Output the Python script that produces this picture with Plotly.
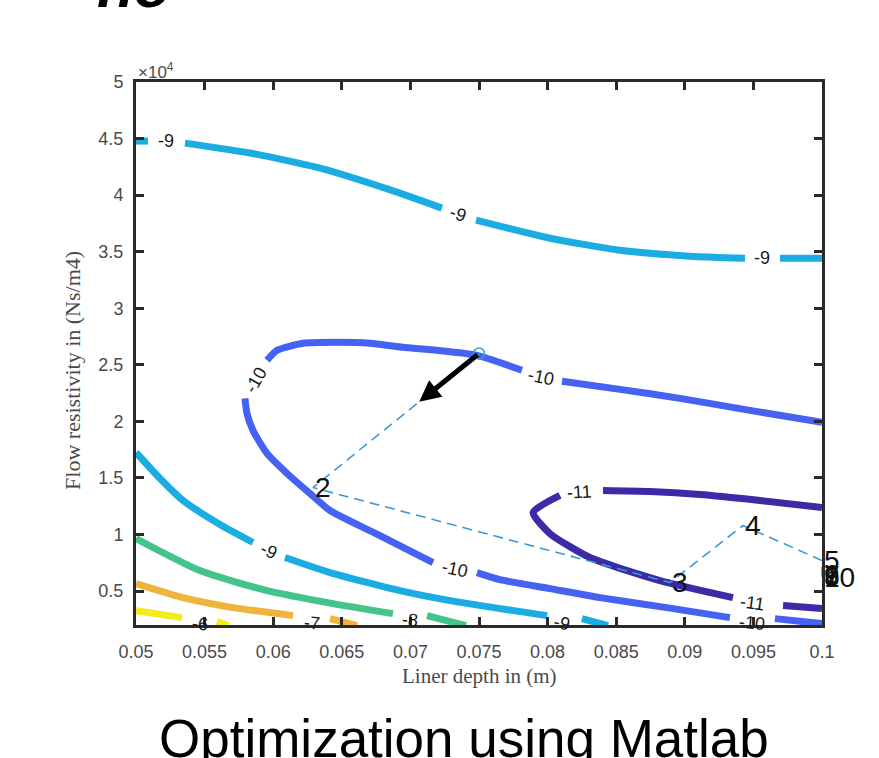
import plotly.graph_objects as go

# ---------------- data ----------------
# contour level -9 (upper branch)
c9a_x = [0.05, 0.05087, None, 0.05357, 0.05831, 0.06341, 0.06924, 0.0723, None,
         0.07478, 0.08017, 0.08528, 0.09038, 0.09439, None, 0.09694, 0.1]
c9a_y = [44780, 44780, None, 44600, 43720, 42390, 40180, 38850, None,
         37790, 36190, 35130, 34600, 34420, None, 34420, 34420]
# contour level -10
c10_x = [0.1, 0.09475, 0.08965, 0.08528, 0.08105, None,
         0.07813, 0.07485, 0.07194, 0.06946, 0.06706, 0.06465, 0.06217, 0.06028, 0.05955, None,
         0.05794, 0.05809, 0.05853, 0.05955, 0.06101, 0.06268, 0.06414, 0.06778, 0.07165, None,
         0.07485, 0.07653, 0.08017, 0.08382, 0.0887, 0.09329, None, 0.09657, 0.1]
c10_y = [19910, 20972, 22034, 22830, 23540, None,
         24512, 25840, 26282, 26548, 26902, 26990, 26902, 26282, 25397, None,
         22034, 20707, 19202, 17167, 15397, 13627, 12122, 9910, 7520, None,
         6635, 6015, 5219, 4423, 3538, 2653, None, 2564, 2122]
# contour level -11
c11_x = [0.1, 0.09548, 0.09111, 0.08746, 0.08404, None,
         0.0809, 0.07894, 0.08017, 0.08309, 0.08819, 0.09351, None, 0.09716, 0.1]
c11_y = [12388, 13007, 13538, 13804, 13892, None,
         13450, 11945, 10087, 7963, 5927, 4423, None, 3714, 3449]
# contour level -9 (lower branch)
c9b_x = [0.05, 0.05175, 0.05343, 0.05612, 0.05853, None,
         0.06086, 0.06414, 0.06924, 0.07289, 0.07653, 0.07996, None, 0.0825, 0.0844]
c9b_y = [17255, 14954, 13007, 10883, 9290, None,
         7963, 6635, 5042, 4157, 3449, 2830, None, 2564, 1950]
# contour level -8
c8_x = [0.05, 0.05466, 0.05955, 0.06436, 0.06873, None, 0.07121, 0.07405]
c8_y = [9644, 6812, 5042, 3892, 3007, None, 2830, 1950]
# contour level -7
c7_x = [0.05, 0.05343, 0.05707, 0.06144, None, 0.06414, 0.06611]
c7_y = [5662, 4423, 3538, 2830, None, 2564, 1950]
# contour level -6
c6_x = [0.05, 0.05335, None, 0.0559, 0.05671]
c6_y = [3272, 2653, None, 2300, 1950]

# contour labels: text, x, y, angle
lab_text = ["-9", "-9", "-9", "-10", "-10", "-10", "-10", "-11", "-11",
            "-9", "-9", "-8", "-7", "-6"]
lab_x = [0.05219, 0.07347, 0.09563, 0.07952, 0.05875, 0.07325, 0.0949, 0.08236, 0.0949,
         0.05969, 0.08105, 0.07, 0.06283, 0.05466]
lab_y = [44780, 38320, 34420, 23893, 23627, 6989, 2210, 13715, 3980,
         8582, 2210, 2475, 2210, 2122]
lab_angle = [0, 19, 0, 12, -60, 12, 5, -3, 8, 25, 12, 5, 5, 5]

# optimisation path (iterations 1..10)
iter_x = [0.075, 0.0629, 0.08892, 0.09424, 0.1, 0.1, 0.1, 0.1, 0.1, 0.1]
iter_y = [26000, 14150, 5750, 10794, 7697, 6500, 6400, 6300, 6250, 6200]
iter_lbl = ["", "2", "3", "4", "5", "6", "7", "8", "9", "10"]

x_ticks = [0.05, 0.055, 0.06, 0.065, 0.07, 0.075, 0.08, 0.085, 0.09, 0.095, 0.1]
x_ticktext = ["0.05", "0.055", "0.06", "0.065", "0.07", "0.075", "0.08", "0.085", "0.09", "0.095", "0.1"]
y_ticks = [5000, 10000, 15000, 20000, 25000, 30000, 35000, 40000, 45000, 50000]
y_ticktext = ["0.5", "1", "1.5", "2", "2.5", "3", "3.5", "4", "4.5", "5"]

# ---------------- figure ----------------
fig = go.Figure()
contours = [
    (c6_x, c6_y, "#F2EC1C"),
    (c7_x, c7_y, "#EFB43C"),
    (c8_x, c8_y, "#45C48A"),
    (c9b_x, c9b_y, "#1BADE2"),
    (c9a_x, c9a_y, "#1BADE2"),
    (c10_x, c10_y, "#4662F2"),
    (c11_x, c11_y, "#3C2AA7"),
]
for cx, cy, col in contours:
    fig.add_trace(go.Scatter(x=cx, y=cy, mode="lines", line=dict(color=col, width=7, shape="spline", smoothing=0.6),
                             connectgaps=False, hoverinfo="skip", showlegend=False))

# dashed path
fig.add_trace(go.Scatter(x=iter_x, y=iter_y, mode="lines",
                         line=dict(color="#3A9AD6", width=1.6, dash="10px,6px"),
                         showlegend=False, hoverinfo="skip", cliponaxis=False))
# start marker
fig.add_trace(go.Scatter(x=iter_x[:1], y=iter_y[:1], mode="markers",
                         marker=dict(symbol="circle-open", size=11, color="#3A9AD6", line=dict(width=1.5)),
                         showlegend=False, hoverinfo="skip"))

sans = "Liberation Sans, Arial, sans-serif"
serif = "Liberation Serif, Times New Roman, serif"
annotations = []
for t, x, y, a in zip(lab_text, lab_x, lab_y, lab_angle):
    annotations.append(dict(x=x, y=y, xref="x", yref="y", text=t, showarrow=False,
                            textangle=a, font=dict(family=sans, size=18, color="#1a1a1a")))
for x, y, t in zip(iter_x, iter_y, iter_lbl):
    if t:
        annotations.append(dict(x=x, y=y, xref="x", yref="y", text=t, showarrow=False,
                                xanchor="left", yanchor="middle",
                                font=dict(family=sans, size=28, color="#111111")))
# arrow (gradient step direction, from iterate 1 towards iterate 2)
frac = 0.36
annotations.append(dict(
    x=iter_x[0] + frac * (iter_x[1] - iter_x[0]), y=iter_y[0] + frac * (iter_y[1] - iter_y[0]),
    ax=iter_x[0], ay=iter_y[0], xref="x", yref="y", axref="x", ayref="y",
    showarrow=True, arrowhead=2, arrowsize=0.85, arrowwidth=5, arrowcolor="black", text=""))
# exponent label
annotations.append(dict(x=0, y=1, xref="paper", yref="paper", xanchor="left", yanchor="bottom",
                        text="\u00d710<sup>4</sup>", showarrow=False, yshift=-2,
                        font=dict(family=sans, size=17, color="#4a4a4a")))
# y axis title
annotations.append(dict(x=0, y=0.468, xref="paper", yref="paper", xshift=-63, xanchor="center",
                        text="Flow resistivity in (Ns/m4)", textangle=-90, showarrow=False,
                        font=dict(family=serif, size=22, color="#4a4a4a")))
# x axis title
annotations.append(dict(x=0.5, y=0, xref="paper", yref="paper", yshift=-51,
                        text="Liner depth in (m)", showarrow=False, yanchor="middle",
                        font=dict(family=serif, size=21, color="#4a4a4a")))
# bottom caption
annotations.append(dict(x=0.478, y=-0.267, xref="paper", yref="paper",
                        text="Optimization using Matlab", showarrow=False, yanchor="bottom",
                        font=dict(family=sans, size=53, color="black")))
# cropped heading at the very top
annotations.append(dict(x=-0.06, y=1.1105, xref="paper", yref="paper", yanchor="bottom",
                        text="<b><i>no</i></b>", showarrow=False,
                        font=dict(family=sans, size=60, color="black")))

axis_common = dict(showgrid=False, zeroline=False, showline=True, linecolor="#2a2a2a", linewidth=3,
                   mirror="ticks", ticks="inside", ticklen=8, tickwidth=2.5, tickcolor="#2a2a2a",
                   tickfont=dict(family=sans, size=18, color="#4a4a4a"))
fig.update_layout(
    width=879, height=758,
    margin=dict(l=136, r=57, t=82, b=133),
    paper_bgcolor="white", plot_bgcolor="white",
    xaxis=dict(range=[0.05, 0.1], tickvals=x_ticks, ticktext=x_ticktext, ticklabelstandoff=8, **axis_common),
    yaxis=dict(range=[2000, 50000], tickvals=y_ticks, ticktext=y_ticktext, ticklabelstandoff=6, **axis_common),
    annotations=annotations,
    showlegend=False,
)
fig.write_html("out.html", config={"displayModeBar": False},
               post_script="document.body.style.margin='0';document.body.style.overflow='hidden';")
